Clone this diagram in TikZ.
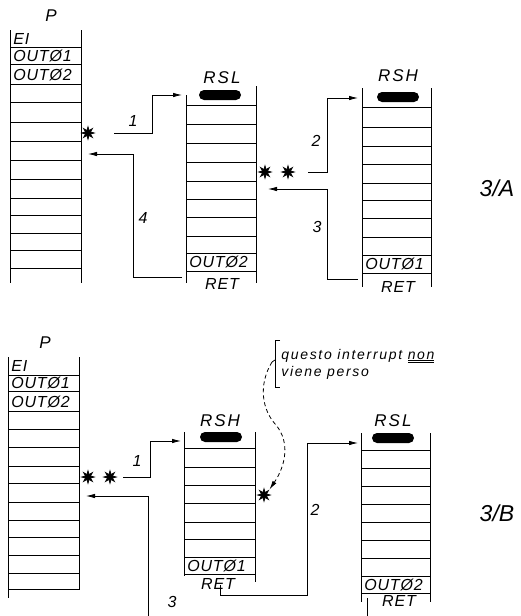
\documentclass[tikz,border=0pt]{standalone}
\usepackage{fontspec}
\setmainfont{Liberation Sans}
\usetikzlibrary{arrows.meta,shapes.geometric}
\begin{document}
\begin{tikzpicture}[x=1pt,y=-1pt,line width=0.8pt,
    txt/.style={font=\itshape\fontsize{16}{16}\selectfont\addfontfeature{LetterSpace=5}, inner sep=0pt},
    ttl/.style={font=\itshape\fontsize{17}{17}\selectfont\addfontfeature{LetterSpace=12}, inner sep=0pt},
    big/.style={font=\itshape\fontsize{23}{23}\selectfont, inner sep=0pt},
    note/.style={font=\itshape\fontsize{14}{16}\selectfont\addfontfeature{LetterSpace=12}, inner sep=0pt, anchor=west},
    pill/.style={fill=black, rounded corners=5pt, minimum width=42pt, minimum height=10pt, inner sep=0pt},
    burst/.style={star, star points=8, star point ratio=2.4, fill=black, draw=black, line width=0.6pt, minimum size=13pt, inner sep=0pt},
    conn/.style={-{Latex[length=9pt,width=4.5pt]}, line width=0.8pt}]
    \useasboundingbox (0,0) rectangle (520,616);

    % ---------------- 3/A ----------------
    % colonna P
    \draw (10,30) -- (10,283) (81,30) -- (81,283);
    \foreach \y in {47,64,84,102,122,141,160,179,198,215,233,250,268}
        \draw (10,\y) -- (81,\y);
    \node[ttl] (pA) at (51,16) {P};
    \node[txt,anchor=west] (eiA) at (13,39) {EI};
    \node[txt,anchor=west] (o1A) at (13,56) {OUTØ1};
    \node[txt,anchor=west] (o2A) at (13,75) {OUTØ2};

    % colonna RSL
    \draw (186,95) -- (186,283) (256,86) -- (256,283);
    \foreach \y in {105,124,143,162,181,199,217,236,253,271}
        \draw (186,\y) -- (256,\y);
    \node[ttl] (rslA) at (222,78) {RSL};
    \node[pill] (rslApill) at (220,95) {};
    \node[txt,anchor=west] (o2rslA) at (189,262) {OUTØ2};
    \node[txt] (retrslA) at (222,284) {RET};

    % colonna RSH
    \draw (362,88) -- (362,287) (431,88) -- (431,287);
    \foreach \y in {107,127,146,164,183,200,218,237,255,273}
        \draw (362,\y) -- (431,\y);
    \node[ttl] (rshA) at (398,76) {RSH};
    \node[pill] (rshApill) at (398,97) {};
    \node[txt,anchor=west] (o1rshA) at (365,264) {OUTØ1};
    \node[txt] (retrshA) at (398,287) {RET};

    % interrupt
    \node[burst] (sA) at (88,133) {};
    \node[burst] (sA2) at (265,172) {};
    \node[burst] (sA3) at (288,172) {};

    \coordinate (a1s) at (114,133);
    \coordinate (a1k) at (152,95);
    \coordinate (a1e) at (182,95);
    \draw[conn] (a1s) -| (a1k) -- (a1e);
    \node[txt] (n1A) at (133,121) {1};

    \coordinate (a4s) at (182,277);
    \coordinate (a4k) at (133,154);
    \coordinate (a4e) at (88,154);
    \draw[conn] (a4s) -| (a4k) -- (a4e);
    \node[txt] (n4A) at (143,218) {4};

    \coordinate (a2s) at (308,172);
    \coordinate (a2k) at (327,98);
    \coordinate (a2e) at (358,98);
    \draw[conn] (a2s) -| (a2k) -- (a2e);
    \node[txt] (n2A) at (316,141) {2};

    \coordinate (a3s) at (358,279);
    \coordinate (a3k) at (327,189);
    \coordinate (a3e) at (268,189);
    \draw[conn] (a3s) -| (a3k) -- (a3e);
    \node[txt] (n3A) at (317,227) {3};

    \node[big] (labA) at (497,188) {3/A};

    % ---------------- 3/B ----------------
    % colonna P
    \draw (8,357) -- (8,598) (79,357) -- (79,590);
    \foreach \y in {375,391,411,429,447,466,483,502,520,537,555,573,589}
        \draw (8,\y) -- (79,\y);
    \node[ttl] (pB) at (45,343) {P};
    \node[txt,anchor=west] (eiB) at (11,366) {EI};
    \node[txt,anchor=west] (o1B) at (11,383) {OUTØ1};
    \node[txt,anchor=west] (o2B) at (11,402) {OUTØ2};

    % colonna RSH
    \draw (184,432) -- (184,576) (255,432) -- (255,582);
    \foreach \y in {448,467,485,503,522,539,557,574}
        \draw (184,\y) -- (255,\y);
    \node[ttl] (rshB) at (220,421) {RSH};
    \node[pill] (rshBpill) at (221,437) {};
    \node[txt,anchor=west] (o1rshB) at (187,566) {OUTØ1};
    \node[txt] (retrshB) at (218,584) {RET};

    % colonna RSL
    \draw (361,433) -- (361,602) (430,433) -- (430,602);
    \foreach \y in {450,468,486,504,522,540,558,576,593}
        \draw (361,\y) -- (430,\y);
    \node[ttl] (rslB) at (393,421) {RSL};
    \node[pill] (rslBpill) at (393,438) {};
    \node[txt,anchor=west] (o2rslB) at (364,585) {OUTØ2};
    \node[txt] (retrslB) at (399,601) {RET};

    % interrupt
    \node[burst] (sB) at (88,477) {};
    \node[burst] (sB2) at (110,477) {};
    \node[burst] (sB3) at (264,495) {};

    \coordinate (b1s) at (123,477);
    \coordinate (b1k) at (150,441);
    \coordinate (b1e) at (181,441);
    \draw[conn] (b1s) -| (b1k) -- (b1e);
    \node[txt] (n1B) at (137,461) {1};

    \coordinate (b3s) at (148,616);
    \coordinate (b3e) at (86,496);
    \draw[conn] (b3s) |- (b3e);
    \node[txt] (n3B) at (172,602) {3};

    \coordinate (b2s) at (220,585);
    \coordinate (b2k) at (307,595);
    \coordinate (b2e) at (358,443);
    \draw[conn] (b2s) |- (b2k) |- (b2e);
    \node[txt] (n2B) at (315,510) {2};

    \coordinate (b4s) at (367,598);
    \coordinate (b4e) at (367,616);
    \draw (b4s) -- (b4e);

    \node[big] (labB) at (497,513) {3/B};

    % nota
    \draw (280,340) -- (275,340) -- (275,387) -- (280,387);
    \coordinate (nb) at (272,362);
    \draw (275,360) -- (nb);
    \node[note] (nota1) at (281,356) {questo interrupt \underline{\underline{non}}};
    \node[note] (nota2) at (281,373) {viene perso};
    \draw[conn,dash pattern=on 4pt off 3pt] (nb) .. controls (258,385) and (262,410) .. (276,425)
        .. controls (290,442) and (286,465) .. (sB3.north east);
\end{tikzpicture}
\end{document}
